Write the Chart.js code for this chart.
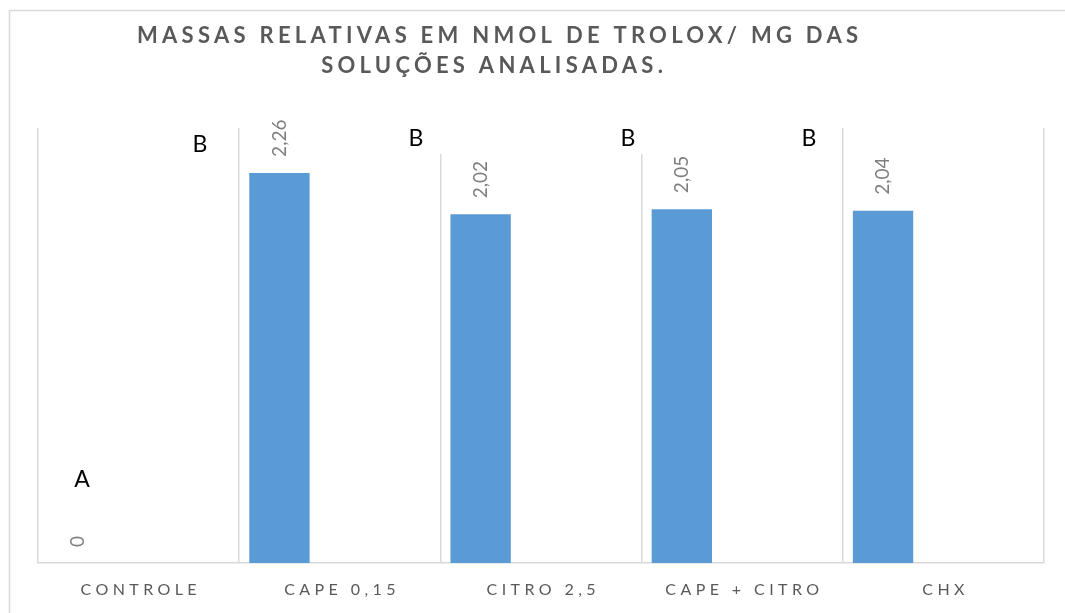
<!DOCTYPE html>
<html>
<head>
<meta charset="utf-8">
<script src="https://cdn.jsdelivr.net/npm/chart.js@4"></script>
<style>
  html, body { margin: 0; padding: 0; background: #fff; }
  #wrap { width: 1065px; height: 613px; }
</style>
</head>
<body>
<div id="wrap"><canvas id="chart"></canvas></div>
<script>
const categories = ["CONTROLE", "CAPE 0,15", "CITRO 2,5", "CAPE + CITRO", "CHX"];
const values = [0, 2.26, 2.02, 2.05, 2.04];
const valueLabels = ["0", "2,26", "2,02", "2,05", "2,04"];
const letters = ["A", "B", "B", "B", "B"];
const titleLines = ["MASSAS RELATIVAS EM NMOL DE TROLOX/ MG DAS", "SOLUÇÕES ANALISADAS."];

// letter boxes (Excel text boxes), placed by hand: x centre, baseline
const letterPos = [[82, 487], [200, 152], [416, 146], [628, 146], [809, 146]];

const grey = "#595959";
const FONT = "Lato, 'Open Sans', sans-serif";

// letter spacing that makes text span a given width
function spacingFor(ctx, text, width) {
  ctx.letterSpacing = "0px";
  const w = ctx.measureText(text).width;
  return (width - w) / (text.length - 1);
}

const decor = {
  id: "decor",
  beforeDraw(chart) {
    const ctx = chart.ctx;
    ctx.save();
    ctx.fillStyle = "#fff";
    ctx.fillRect(0, 0, chart.width, chart.height);
    ctx.strokeStyle = "#d9d9d9";
    ctx.lineWidth = 1.5;
    ctx.strokeRect(9.5, 10.5, 1200, 800);
    ctx.restore();
  },
  afterDraw(chart) {
    const ctx = chart.ctx;
    const x = chart.scales.x;
    const meta = chart.getDatasetMeta(0);
    ctx.save();

    // title
    ctx.fillStyle = grey;
    ctx.textBaseline = "alphabetic";
    ctx.textAlign = "center";
    ctx.font = "bold 22px " + FONT;
    const sp = spacingFor(ctx, titleLines[0], 721);
    ctx.letterSpacing = sp + "px";
    ctx.fillText(titleLines[0], 497.5 + sp / 2, 43);
    ctx.fillText(titleLines[1], 492 + sp / 2, 73);

    // category labels
    ctx.textBaseline = "middle";
    ctx.font = "16px " + FONT;
    const sp2 = spacingFor(ctx, categories[0], 116);
    ctx.letterSpacing = sp2 + "px";
    categories.forEach((c, i) => {
      ctx.fillText(c, x.getPixelForValue(i) + sp2 / 2, 590);
    });

    // value labels, rotated
    ctx.letterSpacing = "0px";
    ctx.fillStyle = "#7f7f7f";
    ctx.font = "19px " + FONT;
    ctx.textAlign = "left";
    meta.data.forEach((bar, i) => {
      ctx.save();
      ctx.translate(bar.x, bar.y - 16);
      ctx.rotate(-Math.PI / 2);
      ctx.fillText(valueLabels[i], 0, 0);
      ctx.restore();
    });

    // significance letters with white boxes
    ctx.font = "23px " + FONT;
    ctx.textAlign = "center";
    ctx.textBaseline = "alphabetic";
    letters.forEach((l, i) => {
      const [lx, ly] = letterPos[i];
      ctx.fillStyle = "#fff";
      ctx.fillRect(lx - 28, ly - 24, 56, 32);
      ctx.fillStyle = "#000";
      ctx.fillText(l, lx, ly);
    });
    ctx.restore();
  }
};

function draw() {
  new Chart(document.getElementById("chart"), {
    type: "bar",
    data: {
      labels: categories,
      datasets: [
        { data: values, backgroundColor: "#5b9bd5" },
        { data: [], backgroundColor: "#ed7d31" },
        { data: [], backgroundColor: "#a5a5a5" }
      ]
    },
    options: {
      responsive: true,
      maintainAspectRatio: false,
      animation: false,
      categoryPercentage: 0.9,
      barPercentage: 1.0,
      layout: { padding: { left: 38, right: 21, top: 128, bottom: 50 } },
      plugins: { legend: { display: false }, tooltip: { enabled: false } },
      scales: {
        x: {
          offset: true,
          grid: { offset: true, color: "#d9d9d9", lineWidth: 1.5, drawTicks: false },
          border: { color: "#d9d9d9", width: 1.5 },
          ticks: { display: false }
        },
        y: {
          display: false,
          min: 0,
          max: 2.52
        }
      }
    },
    plugins: [decor]
  });
}

Promise.all([
  document.fonts.load("bold 22px Lato"),
  document.fonts.load("16px Lato")
]).then(draw, draw);
</script>
</body>
</html>
